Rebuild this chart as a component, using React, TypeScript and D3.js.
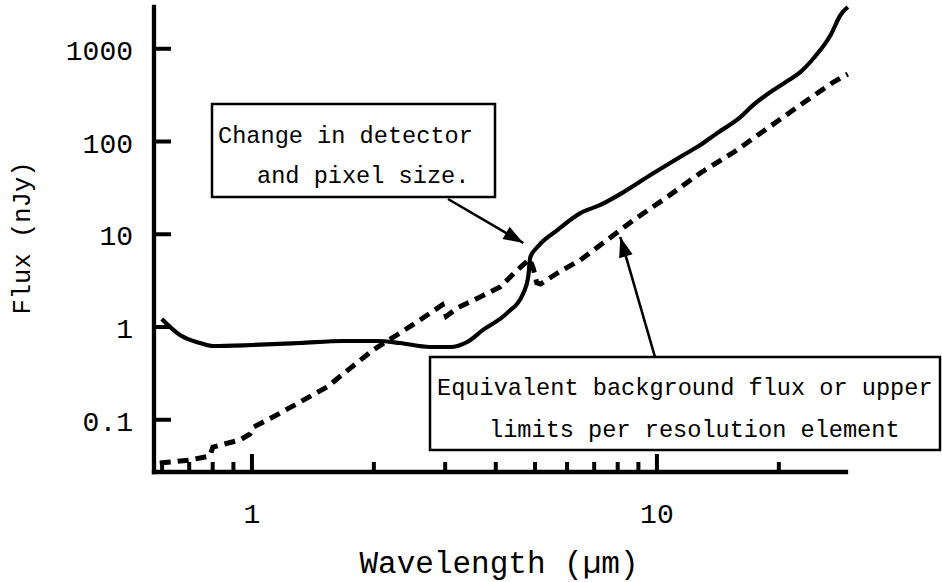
import React from 'react';
import * as d3 from 'd3';

// solid curve: point-source sensitivity (wavelength um, flux nJy)
const solidWave = [0.599, 0.664, 0.744, 0.801, 1.0, 1.314, 1.679, 2.04, 2.32, 2.75, 3.09, 3.4, 3.72, 4.27, 4.68, 4.81, 4.87, 5.07, 5.68, 6.47, 7.25, 8.27, 9.64, 11.63, 12.8, 14.1, 16.1, 17.3, 19.4, 21.0, 22.6, 24.4, 26.85, 28.4, 29.6];
const solidFlux = [1.22, 0.82, 0.672, 0.624, 0.64, 0.672, 0.707, 0.707, 0.672, 0.609, 0.609, 0.689, 0.93, 1.42, 2.33, 3.46, 5.69, 7.29, 11.1, 16.9, 20.7, 28.5, 43.5, 71.5, 91.6, 123.5, 184, 248, 359, 449, 561, 795, 1407, 2312, 2820];

// dashed curve: equivalent background flux per resolution element
const dashWave = [0.592, 0.703, 0.787, 0.801, 0.934, 0.989, 1.01, 1.127, 1.532, 1.99, 2.28, 2.6, 2.95, 3.02, 3.21, 3.66, 4.1, 4.52, 4.85, 4.95, 5.05, 5.16, 5.68, 6.47, 7.25, 8.75, 10.6, 12.8, 15.5, 18.8, 22.6, 27.3, 29.6];
const dashFlux = [0.0342, 0.0368, 0.0407, 0.0508, 0.0605, 0.0702, 0.0835, 0.107, 0.2255, 0.565, 0.82, 1.19, 1.73, 1.31, 1.6, 2.11, 2.7, 4.12, 5.4, 4.3, 3.0, 2.91, 3.82, 5.28, 7.66, 14.2, 25.2, 45.8, 77, 140, 248, 438, 534];

const yTicks = [0.1, 1, 10, 100, 1000];
const yTickLabels = ['0.1', '1', '10', '100', '1000'];
const xMajor = [1, 10];
const xMajorLabels = ['1', '10'];
const xMinor = [0.6, 0.7, 0.8, 0.9, 2, 3, 4, 5, 6, 7, 8, 9, 20];

// arrow tips in data units
const arrowDetector = { wave: 4.68, flux: 8.05 };
const arrowBackground = { wave: 8.12, flux: 9.34 };

const W = 942;
const H = 582;
const FONT = '"Liberation Mono", "Courier New", monospace';

const x = d3.scaleLog().domain([0.573, 29.3]).range([154, 846]);
const y = d3.scaleLog().domain([0.02734, 2820]).range([472, 7]);

const arrowHead = (x1: number, y1: number, x2: number, y2: number, len = 20, half = 7) => {
  const a = Math.atan2(y2 - y1, x2 - x1);
  const bx = x2 - len * Math.cos(a);
  const by = y2 - len * Math.sin(a);
  const px = -Math.sin(a) * half;
  const py = Math.cos(a) * half;
  return `M${x2},${y2}L${bx + px},${by + py}L${bx - px},${by - py}Z`;
};

const App = () => {
  const solid = solidWave.map((w, i) => [w, solidFlux[i]] as [number, number]);
  const dashed = dashWave.map((w, i) => [w, dashFlux[i]] as [number, number]);

  const solidLine = d3
    .line<[number, number]>()
    .x((d) => x(d[0]))
    .y((d) => y(d[1]))
    .curve(d3.curveMonotoneX);
  const dashLine = d3
    .line<[number, number]>()
    .x((d) => x(d[0]))
    .y((d) => y(d[1]))
    .curve(d3.curveLinear);

  const [x0, x1] = x.range();
  const [y0, y1] = y.range();

  const a1 = { x1: 448, y1: 199, x2: x(arrowDetector.wave), y2: y(arrowDetector.flux) };
  const a2 = { x1: 655, y1: 357, x2: x(arrowBackground.wave), y2: y(arrowBackground.flux) };

  return (
    <svg width={W} height={H} style={{ position: 'absolute', left: 0, top: 0, background: '#fff' }} fontFamily={FONT}>
      <rect width={W} height={H} fill="#fff" />

      {/* curves */}
      <path d={solidLine(solid) || ''} fill="none" stroke="#000" strokeWidth={4.2} strokeLinejoin="round" />
      <path d={dashLine(dashed) || ''} fill="none" stroke="#000" strokeWidth={5} strokeDasharray="11 7" />

      {/* axes */}
      <line x1={x0} x2={x0} y1={y1} y2={y0} stroke="#000" strokeWidth={4.3} strokeLinecap="square" />
      <line x1={x0} x2={x1} y1={y0} y2={y0} stroke="#000" strokeWidth={4.3} strokeLinecap="square" />

      {yTicks.map((t, i) => (
        <g key={'y' + t}>
          <line x1={x0} x2={x0 + 17} y1={y(t)} y2={y(t)} stroke="#000" strokeWidth={4} />
          <text x={133} y={y(t) + 11} textAnchor="end" fontSize={28}>
            {yTickLabels[i]}
          </text>
        </g>
      ))}

      {xMajor.map((t, i) => (
        <g key={'xm' + t}>
          <line x1={x(t)} x2={x(t)} y1={y0} y2={y0 - 18} stroke="#000" strokeWidth={4} />
          <text x={x(t)} y={523} textAnchor="middle" fontSize={28}>
            {xMajorLabels[i]}
          </text>
        </g>
      ))}
      {xMinor.map((t) => (
        <line key={'xn' + t} x1={x(t)} x2={x(t)} y1={y0} y2={y0 - 10} stroke="#000" strokeWidth={4} />
      ))}

      {/* axis titles */}
      <text x={499} y={573} textAnchor="middle" fontSize={31}>
        Wavelength (µm)
      </text>
      <text transform="translate(30,238) rotate(-90)" textAnchor="middle" fontSize={25.5}>
        Flux (nJy)
      </text>

      {/* annotation: detector change */}
      <rect x={212} y={104} width={283} height={93} fill="#fff" stroke="#000" strokeWidth={2.5} />
      <text x={218} y={143} fontSize={23.6}>
        Change in detector
      </text>
      <text x={257} y={183} fontSize={23.6}>
        and pixel size.
      </text>
      <line {...a1} stroke="#000" strokeWidth={2.6} />
      <path d={arrowHead(a1.x1, a1.y1, a1.x2, a1.y2)} fill="#000" />

      {/* annotation: background */}
      <rect x={430} y={357} width={510} height={93} fill="#fff" stroke="#000" strokeWidth={2.5} />
      <text x={437} y={395} fontSize={23.6}>
        Equivalent background flux or upper
      </text>
      <text x={489} y={437} fontSize={23.6}>
        limits per resolution element
      </text>
      <line {...a2} stroke="#000" strokeWidth={2.6} />
      <path d={arrowHead(a2.x1, a2.y1, a2.x2, a2.y2)} fill="#000" />
    </svg>
  );
};

export default App;
